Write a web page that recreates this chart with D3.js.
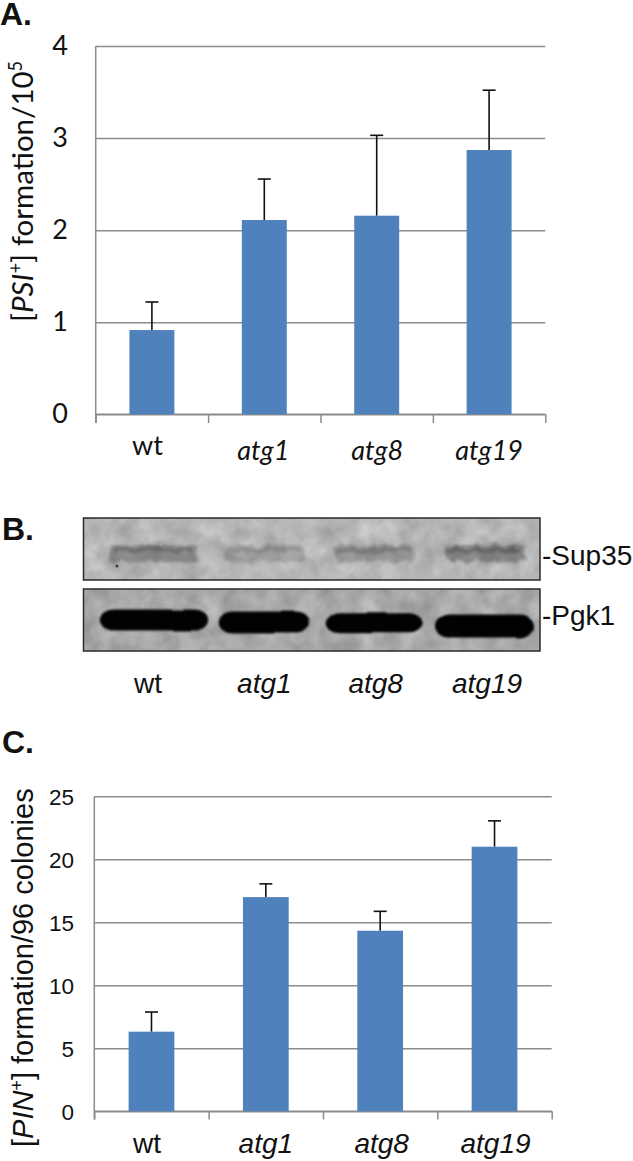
<!DOCTYPE html>
<html>
<head>
<meta charset="utf-8">
<style>
    body, html { margin: 0; background: white; }
    svg { display: block; }
    text { fill: #111; }
    .domain, .tick line { stroke: #8c8c8c; stroke-width: 1.5; }
    .panel { font: bold 32px "Liberation Sans", sans-serif; }
    .calibri { font-family: Lato, sans-serif; }
    .arial { font-family: "Liberation Sans", sans-serif; }
</style>
<script src="https://cdnjs.cloudflare.com/ajax/libs/d3/7.8.5/d3.min.js"></script>
</head>
<body>
<div id="chart"></div>
<script>
    // bar data
    var strains = ["wt", "atg1", "atg8", "atg19"];
    var psiValues = [0.915, 2.11, 2.157, 2.87];
    var psiTops = [1.22, 2.555, 3.03, 3.52];
    var pinValues = [6.32, 17.0, 14.33, 21.0];
    var pinTops = [7.88, 18.05, 15.87, 23.05];
    var psiTicks = [0, 1, 2, 3, 4];
    var pinTicks = [0, 5, 10, 15, 20, 25];

    // blot data, all relative (length of band, thickness, darkness, drift down the gel)
    var sup35Length = [0.76, 0.71, 0.71, 0.71];
    var sup35Dark = [0.36, 0.2, 0.26, 0.38];
    var pgk1Length = [0.95, 0.8, 0.86, 0.86];
    var pgk1Thick = [0.84, 0.88, 0.8, 0.92];
    var pgk1Drift = [0, 0.1, 0.13, 0.24];

    var svg = d3.select("#chart").append("svg").attr("width", 633).attr("height", 1161);
    var defs = svg.append("defs");

    // uneven band edges: warp with noise, then blur
    function addSmear(id, freq, warp, sd, seed) {
        var f = defs.append("filter").attr("id", id)
            .attr("x", "-20%").attr("y", "-80%").attr("width", "140%").attr("height", "260%")
            .attr("color-interpolation-filters", "sRGB");
        f.append("feTurbulence").attr("type", "fractalNoise")
            .attr("baseFrequency", freq).attr("numOctaves", 2).attr("seed", seed).attr("result", "n");
        f.append("feDisplacementMap").attr("in", "SourceGraphic").attr("in2", "n")
            .attr("scale", warp).attr("xChannelSelector", "R").attr("yChannelSelector", "G");
        f.append("feGaussianBlur").attr("stdDeviation", sd);
    }
    addSmear("pgkBand", 0.02, 3, 1.2, 2);
    addSmear("supBand", 0.11, 10, 1.7, 7);

    // membrane texture
    function addGrain(id, low, high, seed) {
        var f = defs.append("filter").attr("id", id)
            .attr("x", 0).attr("y", 0).attr("width", "100%").attr("height", "100%")
            .attr("color-interpolation-filters", "sRGB");
        f.append("feTurbulence").attr("type", "fractalNoise")
            .attr("baseFrequency", 0.05).attr("numOctaves", 3).attr("seed", seed);
        f.append("feColorMatrix").attr("type", "matrix")
            .attr("values", "1 0 0 0 0 1 0 0 0 0 1 0 0 0 0 0 0 0 0 1");
        var ct = f.append("feComponentTransfer");
        ["feFuncR", "feFuncG", "feFuncB"].forEach(function (n) {
            ct.append(n).attr("type", "table").attr("tableValues", low + " " + high);
        });
    }
    addGrain("grainTop", 0.6, 0.83, 4);
    addGrain("grainBottom", 0.55, 0.78, 9);

    function barChart(opt) {
        var y = d3.scaleLinear().domain(opt.domain).range([opt.bottom, opt.top]);
        var x = d3.scaleBand().domain(strains).range([opt.left, opt.right])
            .paddingInner(0.6).paddingOuter(0.3);
        var edges = d3.scalePoint().domain(d3.range(strains.length + 1)).range([opt.left, opt.right]);

        var g = svg.append("g");

        // gridlines come from the left axis
        var yAxis = g.append("g").attr("transform", "translate(" + opt.left + ",0)")
            .call(d3.axisLeft(y).tickValues(opt.ticks).tickSizeOuter(0).tickSize(8).tickFormat(d3.format("d")));
        yAxis.selectAll(".tick line").attr("x2", opt.right - opt.left);
        yAxis.select(".domain").attr("d", "M0," + y(opt.domain[1]) + "V" + opt.tickEnd);
        yAxis.selectAll(".tick text")
            .attr("class", opt.font)
            .attr("x", opt.tickLabelX - opt.left)
            .attr("dy", opt.tickDy)
            .style("font-size", opt.tickSize + "px");
        yAxis.attr("font-family", null).attr("font-size", null);

        var xAxis = g.append("g").attr("transform", "translate(0," + opt.bottom + ")")
            .call(d3.axisBottom(edges).tickSize(opt.tickEnd - opt.bottom).tickSizeOuter(0).tickFormat(""));
        xAxis.select(".domain").remove();
        g.append("line")
            .attr("x1", opt.left).attr("x2", opt.right).attr("y1", opt.bottom).attr("y2", opt.bottom)
            .attr("stroke", "#8c8c8c").attr("stroke-width", 1.6);

        // error bars first, bars sit on top
        strains.forEach(function (s, i) {
            var cx = x(s) + x.bandwidth() / 2;
            var eb = g.append("g").attr("stroke", "#111").attr("stroke-width", 1.6);
            eb.append("line").attr("x1", cx).attr("x2", cx).attr("y1", y(opt.values[i])).attr("y2", y(opt.tops[i]));
            eb.append("line").attr("x1", cx - 6.5).attr("x2", cx + 6.5).attr("y1", y(opt.tops[i])).attr("y2", y(opt.tops[i]));
        });

        g.selectAll(".bar").data(strains).enter().append("rect")
            .attr("class", "bar")
            .attr("x", function (d) { return x(d); })
            .attr("width", x.bandwidth())
            .attr("y", function (d, i) { return y(opt.values[i]); })
            .attr("height", function (d, i) { return opt.bottom - y(opt.values[i]); })
            .attr("fill", "#4f81bd");

        g.selectAll(".lab").data(strains).enter().append("text")
            .attr("class", "lab " + opt.font)
            .attr("text-anchor", "middle")
            .attr("x", function (d, i) { return x(d) + x.bandwidth() / 2 + opt.labelShift[i]; })
            .attr("y", function (d, i) { return i == 0 ? opt.wtBase : opt.labelBase; })
            .style("font-size", function (d, i) { return (i == 0 ? opt.wtSize : opt.labelSize) + "px"; })
            .style("font-style", function (d, i) { return i == 0 ? "normal" : "italic"; })
            .text(function (d) { return d; });
    }

    barChart({
        domain: [0, 4], ticks: psiTicks, values: psiValues, tops: psiTops,
        left: 95.7, right: 545.3, top: 46, bottom: 414.3, tickEnd: 423,
        font: "calibri", tickLabelX: 68, tickDy: 8, tickSize: 27,
        labelShift: [-4.5, -1, 0.5, 0], labelBase: 460, wtBase: 455,
        wtSize: 27, labelSize: 27
    });

    barChart({
        domain: [0, 25], ticks: pinTicks, values: pinValues, tops: pinTops,
        left: 94.3, right: 551.7, top: 796.3, bottom: 1111.3, tickEnd: 1119.5,
        font: "arial", tickLabelX: 74, tickDy: 8, tickSize: 22.5,
        labelShift: [-4.5, 0, 1.5, 1], labelBase: 1153, wtBase: 1153,
        wtSize: 28, labelSize: 28
    });

    // axis titles
    function axisTitle(cls, xPos, yPos, size, parts) {
        var t = svg.append("text").attr("class", cls)
            .attr("transform", "translate(" + xPos + "," + yPos + ") rotate(-90)")
            .style("font-size", size + "px");
        parts.forEach(function (p) {
            var sp = t.append("tspan").text(p.text);
            if (p.italic) sp.style("font-style", "italic");
            if (p.sup) sp.attr("baseline-shift", "super").style("font-size", (size * 0.62) + "px");
        });
    }
    axisTitle("calibri", 33, 322, 29.5, [
        { text: "[" }, { text: "PSI", italic: true }, { text: "+", sup: true },
        { text: "] formation/10" }, { text: "5", sup: true }
    ]);
    axisTitle("arial", 33, 1147, 29, [
        { text: "[" }, { text: "PIN", italic: true }, { text: "+", sup: true },
        { text: "] formation/96 colonies" }
    ]);

    // panel letters
    [["A.", 0, 25], ["B.", 2, 540], ["C.", 2, 753]].forEach(function (p) {
        svg.append("text").attr("class", "panel").attr("x", p[1]).attr("y", p[2]).text(p[0]);
    });

    // western blot, lanes share one point scale
    var lane = d3.scalePoint().domain(strains).range([154, 485]);
    var laneLength = d3.scaleLinear().domain([0, 1]).range([0, 114]);
    var bandThick = d3.scaleLinear().domain([0, 1]).range([0, 25]);
    var blotLeft = 83.5, blotRight = 540;

    function blotFrame(top, bottom, grain) {
        svg.append("rect")
            .attr("x", blotLeft).attr("y", top)
            .attr("width", blotRight - blotLeft).attr("height", bottom - top)
            .attr("filter", "url(#" + grain + ")");
    }
    function blotBorder(top, bottom) {
        svg.append("rect")
            .attr("x", blotLeft).attr("y", top)
            .attr("width", blotRight - blotLeft).attr("height", bottom - top)
            .attr("fill", "none").attr("stroke", "#2a2a2a").attr("stroke-width", 1.5);
    }

    blotFrame(518, 580, "grainTop");
    // faint Sup35 bands
    var supG = svg.append("g");
    strains.forEach(function (s, i) {
        var w = laneLength(sup35Length[i]);
        supG.append("rect")
            .attr("x", lane(s) - w / 2).attr("width", w)
            .attr("y", 545).attr("height", 17).attr("rx", 6)
            .attr("fill", "#333").attr("fill-opacity", sup35Dark[i])
            .attr("filter", "url(#supBand)");
        supG.append("rect")
            .attr("x", lane(s) - w / 2 + 4).attr("width", w - 8)
            .attr("y", 548).attr("height", 4).attr("rx", 2)
            .attr("fill", "#333").attr("fill-opacity", sup35Dark[i])
            .attr("filter", "url(#supBand)");
    });
    // speck in the wt lane
    supG.append("circle").attr("cx", lane("wt") - 37).attr("cy", 566).attr("r", 1.5)
        .attr("fill", "#222").attr("fill-opacity", 0.8);
    blotBorder(518, 580);

    blotFrame(589, 651, "grainBottom");
    var pgkG = svg.append("g");
    strains.forEach(function (s, i) {
        var w = laneLength(pgk1Length[i]);
        var h = bandThick(pgk1Thick[i]);
        pgkG.append("rect")
            .attr("x", lane(s) - w / 2).attr("width", w)
            .attr("y", 620 + bandThick(pgk1Drift[i]) - h / 2).attr("height", h)
            .attr("rx", 14).attr("ry", h / 2).attr("fill", "#020202")
            .attr("filter", "url(#pgkBand)");
    });
    blotBorder(589, 651);

    svg.selectAll(".blotLab").data(strains).enter().append("text")
        .attr("class", "blotLab arial")
        .attr("text-anchor", "middle")
        .attr("x", function (d, i) { return lane(d) + (i == 0 ? -6 : i == 2 ? 1 : i == 3 ? 2 : 0); })
        .attr("y", 693)
        .style("font-size", "28px")
        .style("font-style", function (d, i) { return i == 0 ? "normal" : "italic"; })
        .text(function (d) { return d; });

    svg.append("text").attr("class", "arial").attr("x", 542).attr("y", 565).style("font-size", "28px").text("-Sup35");
    svg.append("text").attr("class", "arial").attr("x", 542).attr("y", 625).style("font-size", "28px").text("-Pgk1");
</script>
</body>
</html>
